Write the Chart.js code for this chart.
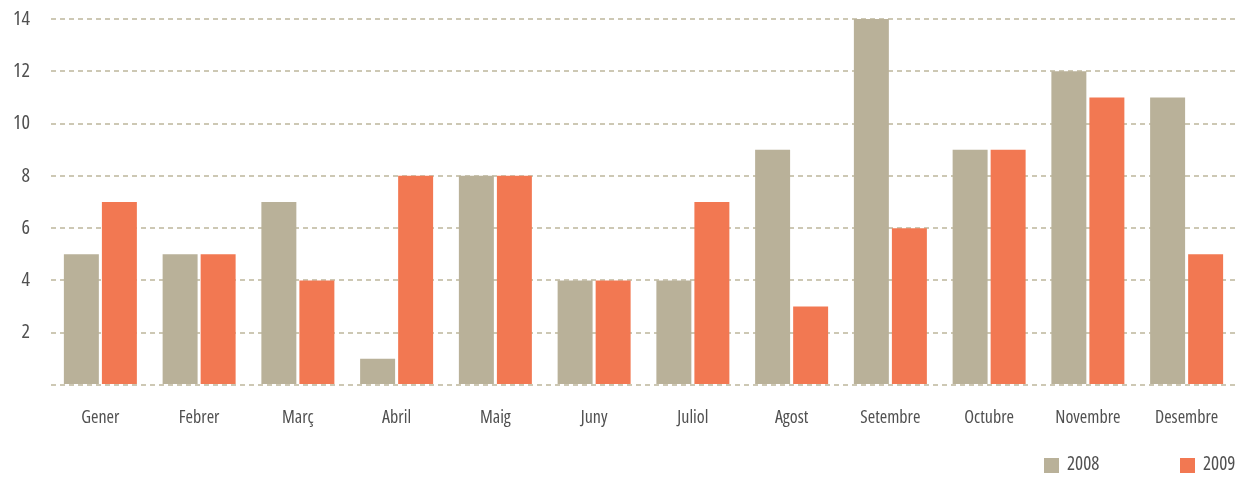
<!DOCTYPE html>
<html>
<head>
<meta charset="utf-8">
<script src="https://cdn.jsdelivr.net/npm/chart.js@4/dist/chart.umd.min.js"></script>
<style>
  html, body { margin: 0; padding: 0; background: #ffffff; }
  #wrap { width: 1236px; height: 477px; position: relative; }
</style>
</head>
<body>
<div id="wrap"><canvas id="c" width="1236" height="477"></canvas></div>
<script>
const months = ['Gener', 'Febrer', 'Març', 'Abril', 'Maig', 'Juny', 'Juliol', 'Agost', 'Setembre', 'Octubre', 'Novembre', 'Desembre'];
const values2008 = [5, 5, 7, 1, 8, 4, 4, 9, 14, 9, 12, 11];
const values2009 = [7, 5, 4, 8, 8, 4, 7, 3, 6, 9, 11, 5];
const yTicks = [2, 4, 6, 8, 10, 12, 14];

const FONT = "'Open Sans', 'Roboto', sans-serif";
const WEIGHT = 'condensed 400';
const TEXT = '#505050';
const C2008 = '#b9b199';
const C2009 = '#f27852';

// Legend in the lower-right corner, drawn on the canvas
const cornerLegend = {
  id: 'cornerLegend',
  afterDraw(chart) {
    const ctx = chart.ctx;
    const items = chart.data.datasets;
    const starts = [1044, 1180];
    const yMid = 465;
    ctx.save();
    ctx.font = WEIGHT + ' 19px ' + FONT;
    ctx.textBaseline = 'middle';
    ctx.textAlign = 'left';
    items.forEach((ds, i) => {
      const x = starts[i];
      ctx.fillStyle = ds.backgroundColor;
      ctx.fillRect(x, yMid - 7, 15, 15);
      ctx.fillStyle = TEXT;
      ctx.fillText(ds.label, x + 23, yMid);
    });
    ctx.restore();
  }
};

new Chart(document.getElementById('c'), {
  type: 'bar',
  data: {
    labels: months,
    datasets: [
      { label: '2008', data: values2008, backgroundColor: C2008, barPercentage: 0.92, categoryPercentage: 0.77 },
      { label: '2009', data: values2009, backgroundColor: C2009, barPercentage: 0.92, categoryPercentage: 0.77 }
    ]
  },
  options: {
    responsive: false,
    animation: false,
    layout: { padding: { top: 19, right: 0, bottom: 32, left: 0 } },
    plugins: {
      legend: { display: false },
      tooltip: { enabled: false }
    },
    scales: {
      x: {
        afterFit(scale) {
          scale.height = 60;
          scale.paddingLeft = 0;
          scale.paddingRight = 0;
        },
        grid: { display: false, drawTicks: false },
        border: { display: false },
        ticks: { color: TEXT, font: { family: FONT, weight: WEIGHT, size: 18 }, padding: 22, maxRotation: 0 }
      },
      y: {
        min: 0,
        max: 14,
        afterFit(scale) {
          scale.width = 51;
          scale.paddingTop = 0;
          scale.paddingBottom = 0;
        },
        afterBuildTicks(scale) { scale.ticks = [0].concat(yTicks).map(v => ({ value: v })); },
        grid: { color: '#cdc8b4', lineWidth: 2, drawTicks: false },
        border: { display: false, dash: [5, 4] },
        ticks: {
          color: TEXT,
          font: { family: FONT, weight: WEIGHT, size: 20 },
          padding: 21,
          callback: v => (v === 0 ? '' : String(v))
        }
      }
    }
  },
  plugins: [cornerLegend]
});
</script>
</body>
</html>
